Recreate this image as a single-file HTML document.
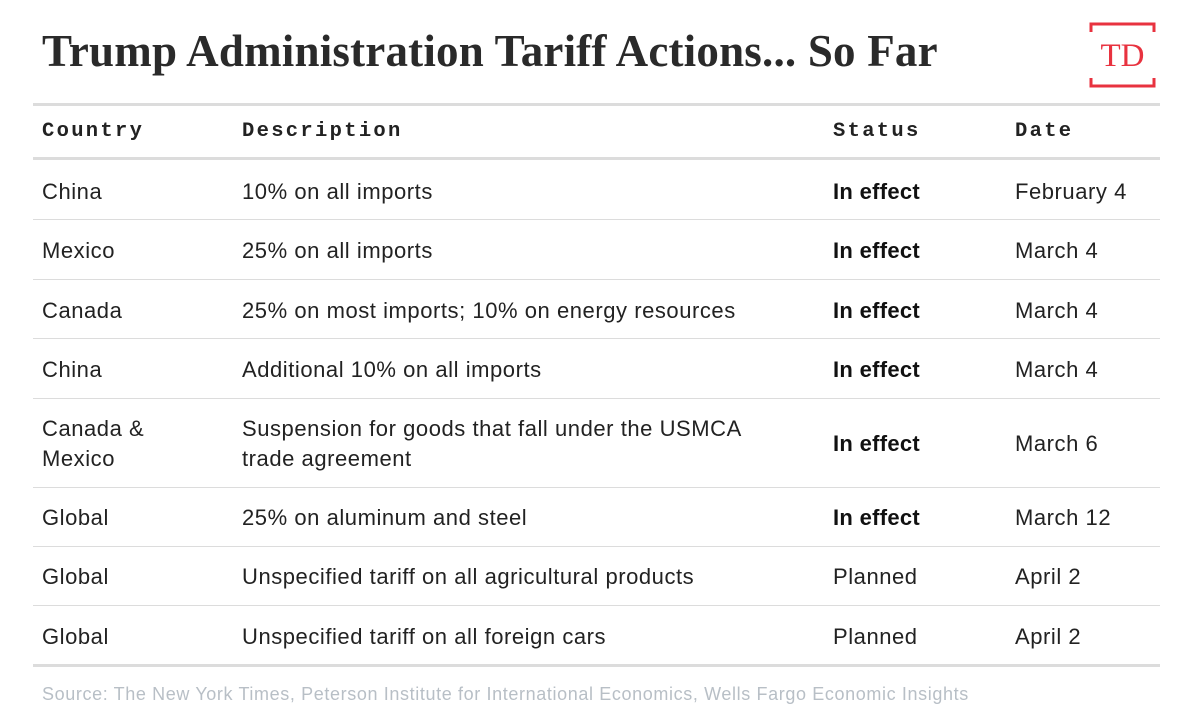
<!DOCTYPE html>
<html><head><style>
body{margin:0;width:1200px;height:727px;background:#fff;position:relative;overflow:hidden;font-family:"Liberation Sans",sans-serif;color:#222}
.t{position:absolute;left:42px;top:25px;font-family:"Liberation Serif",serif;font-weight:bold;font-size:45px;color:#2a2a2a;white-space:nowrap;letter-spacing:0.2px}
.ln{position:absolute;left:33px;width:1127px;background:#dcdcdc}
.c{position:absolute;font-size:22px;letter-spacing:0.55px;line-height:30px;white-space:nowrap;transform:translateY(-50%);margin-top:1px}
.h{font-family:"Liberation Mono",monospace;font-weight:bold;font-size:20.5px;letter-spacing:2.3px}
.b{font-weight:bold;color:#111;letter-spacing:0.3px}
.src{position:absolute;left:42px;top:684px;font-size:18px;letter-spacing:0.62px;color:#b8bfc6;white-space:nowrap}
</style></head><body>
<div class="t">Trump Administration Tariff Actions... So Far</div>
<svg style="position:absolute;left:1085px;top:18px" width="76" height="74">
<path d="M6 14 V6 H69 V14 M6 60 V68 H69 V60" fill="none" stroke="#e8323f" stroke-width="3"/>
<text x="37.5" y="48" text-anchor="middle" font-family="Liberation Serif,serif" font-size="33" fill="#e8323f">TD</text>
</svg>
<div class="ln" style="top:103px;height:3px"></div>
<div class="ln" style="top:157px;height:3px"></div>
<div class="ln" style="top:219px;height:1px"></div>
<div class="ln" style="top:279px;height:1px"></div>
<div class="ln" style="top:338px;height:1px"></div>
<div class="ln" style="top:398px;height:1px"></div>
<div class="ln" style="top:487px;height:1px"></div>
<div class="ln" style="top:546px;height:1px"></div>
<div class="ln" style="top:605px;height:1px"></div>
<div class="ln" style="top:664px;height:3px"></div>

<div class="c h" style="left:42px;top:131px">Country</div>
<div class="c h" style="left:242px;top:131px">Description</div>
<div class="c h" style="left:833px;top:131px">Status</div>
<div class="c h" style="left:1015px;top:131px">Date</div>

<div class="c" style="left:42px;top:191px">China</div>
<div class="c" style="left:242px;top:191px">10% on all imports</div>
<div class="c b" style="left:833px;top:191px">In effect</div>
<div class="c" style="left:1015px;top:191px">February 4</div>

<div class="c" style="left:42px;top:250px">Mexico</div>
<div class="c" style="left:242px;top:250px">25% on all imports</div>
<div class="c b" style="left:833px;top:250px">In effect</div>
<div class="c" style="left:1015px;top:250px">March 4</div>

<div class="c" style="left:42px;top:310px">Canada</div>
<div class="c" style="left:242px;top:310px">25% on most imports; 10% on energy resources</div>
<div class="c b" style="left:833px;top:310px">In effect</div>
<div class="c" style="left:1015px;top:310px">March 4</div>

<div class="c" style="left:42px;top:369px">China</div>
<div class="c" style="left:242px;top:369px">Additional 10% on all imports</div>
<div class="c b" style="left:833px;top:369px">In effect</div>
<div class="c" style="left:1015px;top:369px">March 4</div>

<div class="c" style="left:42px;top:443px">Canada &amp;<br>Mexico</div>
<div class="c" style="left:242px;top:443px">Suspension for goods that fall under the USMCA<br>trade agreement</div>
<div class="c b" style="left:833px;top:443px">In effect</div>
<div class="c" style="left:1015px;top:443px">March 6</div>

<div class="c" style="left:42px;top:517px">Global</div>
<div class="c" style="left:242px;top:517px">25% on aluminum and steel</div>
<div class="c b" style="left:833px;top:517px">In effect</div>
<div class="c" style="left:1015px;top:517px">March 12</div>

<div class="c" style="left:42px;top:576px">Global</div>
<div class="c" style="left:242px;top:576px">Unspecified tariff on all agricultural products</div>
<div class="c" style="left:833px;top:576px">Planned</div>
<div class="c" style="left:1015px;top:576px">April 2</div>

<div class="c" style="left:42px;top:636px">Global</div>
<div class="c" style="left:242px;top:636px">Unspecified tariff on all foreign cars</div>
<div class="c" style="left:833px;top:636px">Planned</div>
<div class="c" style="left:1015px;top:636px">April 2</div>

<div class="src">Source: The New York Times, Peterson Institute for International Economics, Wells Fargo Economic Insights</div>
</body></html>
